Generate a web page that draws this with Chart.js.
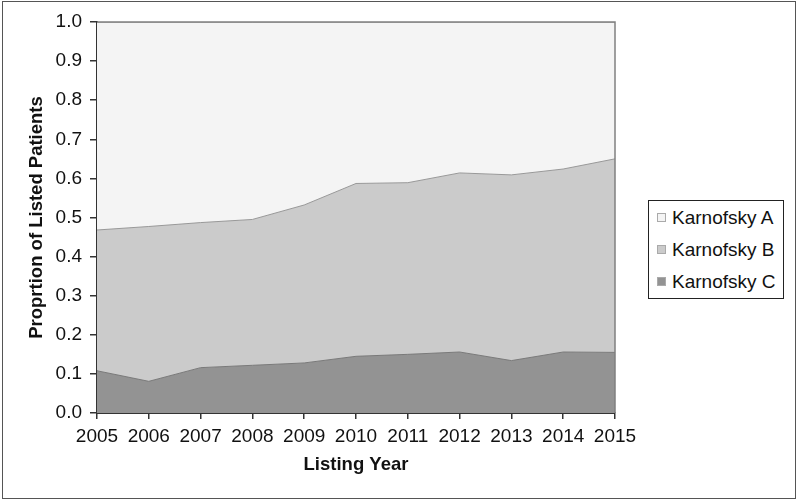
<!DOCTYPE html>
<html>
<head>
<meta charset="utf-8">
<script src="https://cdn.jsdelivr.net/npm/chart.js@4.4.1/dist/chart.umd.min.js"></script>
<style>
  html, body { margin: 0; padding: 0; background: #fff; }
  #frame {
    position: absolute; left: 2px; top: 1px; width: 794px; height: 498px;
    border: 1px solid #555; box-sizing: border-box;
  }
  #wrap { position: absolute; left: 0; top: 0; width: 800px; height: 502px; }
  #legend {
    position: absolute; left: 648px; top: 200px; width: 136px; height: 99px;
    border: 1px solid #222; box-sizing: border-box; background: #fff;
    font-family: "Liberation Sans", Arial, sans-serif; font-size: 19px; color: #111;
    padding-top: 1px;
  }
  #legend .item { height: 32px; line-height: 32px; padding-left: 8px; white-space: nowrap; }
  #legend .sw {
    display: inline-block; width: 7px; height: 7px; border: 1px solid #aaa;
    margin-right: 6px; vertical-align: 2px;
  }
</style>
</head>
<body>
<div id="frame"></div>
<div id="wrap"><canvas id="chart" width="800" height="502"></canvas></div>
<div id="legend"></div>
<script>
const years = ['2005', '2006', '2007', '2008', '2009', '2010', '2011', '2012', '2013', '2014', '2015'];
const karnofskyC = [0.108, 0.081, 0.116, 0.122, 0.128, 0.145, 0.150, 0.156, 0.134, 0.156, 0.155];
const karnofskyB = [0.360, 0.396, 0.371, 0.373, 0.404, 0.442, 0.439, 0.458, 0.475, 0.468, 0.495];
const karnofskyA = [0.532, 0.523, 0.513, 0.505, 0.468, 0.413, 0.411, 0.386, 0.391, 0.376, 0.350];
const yTicks = [0, 0.1, 0.2, 0.3, 0.4, 0.5, 0.6, 0.7, 0.8, 0.9, 1.0];

const colA = '#f4f4f4', colB = '#cbcbcb', colC = '#939393';

// cadre gris haut/droite de la zone de tracé
const plotBorder = {
  id: 'plotBorder',
  afterDatasetsDraw(chart) {
    const { ctx, chartArea: a } = chart;
    ctx.save();
    ctx.strokeStyle = '#808080';
    ctx.lineWidth = 1.5;
    ctx.beginPath();
    ctx.moveTo(a.left, a.top);
    ctx.lineTo(a.right, a.top);
    ctx.lineTo(a.right, a.bottom);
    ctx.stroke();
    ctx.restore();
  }
};

const family = '"Liberation Sans", Arial, sans-serif';
const tickFont = { family: family, size: 19 };
const titleFont = { family: family, size: 18.5, weight: 'bold' };

new Chart(document.getElementById('chart'), {
  type: 'line',
  plugins: [plotBorder],
  data: {
    labels: years,
    datasets: [
      { label: 'Karnofsky C', data: karnofskyC, backgroundColor: colC, borderColor: '#7a7a7a', fill: 'origin' },
      { label: 'Karnofsky B', data: karnofskyB, backgroundColor: colB, borderColor: '#999999', fill: '-1' },
      { label: 'Karnofsky A', data: karnofskyA, backgroundColor: colA, borderColor: '#808080', fill: '-1' }
    ]
  },
  options: {
    responsive: false,
    animation: false,
    layout: { padding: { left: 0, right: 185, top: 22, bottom: 0 } },
    elements: {
      line: { borderWidth: 1, tension: 0 },
      point: { radius: 0 }
    },
    plugins: {
      legend: { display: false },
      tooltip: { enabled: false }
    },
    scales: {
      x: {
        offset: false,
        afterFit: (axis) => { axis.height = 89; },
        grid: { drawOnChartArea: false, tickLength: 6, color: '#333', lineWidth: 1.5 },
        border: { color: '#333', width: 2 },
        ticks: { color: '#111', font: tickFont, maxRotation: 0, autoSkip: false, padding: 6 },
        title: { display: true, text: 'Listing Year', color: '#111', font: titleFont, padding: { bottom: 26 } }
      },
      y: {
        stacked: true,
        min: 0, max: 1,
        afterBuildTicks: (axis) => { axis.ticks = yTicks.map(v => ({ value: v })); },
        afterFit: (axis) => { axis.width = 97; },
        grid: { drawOnChartArea: false, tickLength: 7, color: '#333', lineWidth: 1.5 },
        border: { color: '#333', width: 2 },
        ticks: { color: '#111', font: tickFont, padding: 8, callback: (v) => Number(v).toFixed(1) },
        title: { display: true, text: 'Proprtion of Listed Patients', color: '#111', font: titleFont, padding: { top: 26 } }
      }
    }
  }
});

// légende HTML dans l'ordre A, B, C
const legendItems = [['Karnofsky A', colA], ['Karnofsky B', colB], ['Karnofsky C', colC]];
document.getElementById('legend').innerHTML = legendItems
  .map(([t, c]) => `<div class="item"><span class="sw" style="background:${c}"></span>${t}</div>`)
  .join('');
</script>
</body>
</html>
